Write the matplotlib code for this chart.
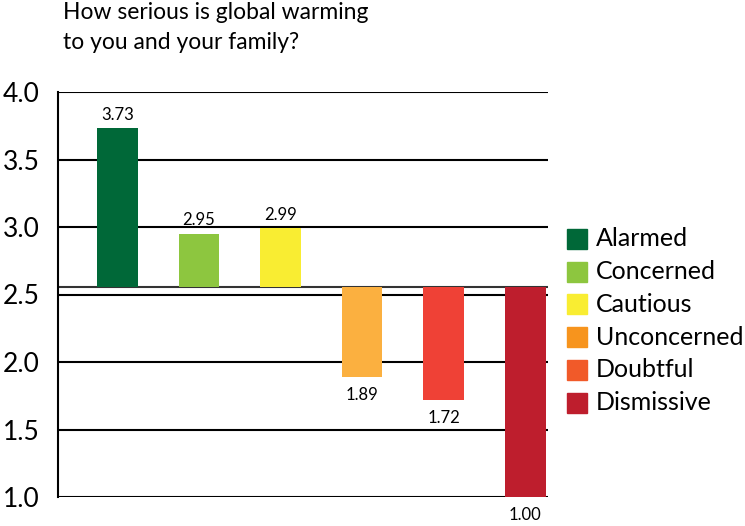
import matplotlib
matplotlib.use("Agg")
import matplotlib.pyplot as plt
from matplotlib.patches import Rectangle

plt.rcParams['font.family'] = ['Lato', 'DejaVu Sans']

# Data
segments = ["Alarmed", "Concerned", "Cautious", "Unconcerned", "Doubtful", "Dismissive"]
scores = [3.73, 2.95, 2.99, 1.89, 1.72, 1.00]
bar_colors = ["#006838", "#8DC63F", "#F9ED32", "#FBB040", "#EF4136", "#BE1E2D"]
legend_colors = ["#006838", "#8DC63F", "#F9ED32", "#F7941D", "#F15A29", "#BE1E2D"]
y_ticks = [1.0, 1.5, 2.0, 2.5, 3.0, 3.5, 4.0]
y_tick_labels = ["1.0", "1.5", "2.0", "2.5", "3.0", "3.5", "4.0"]
title = "How serious is global warming\nto you and your family?"
baseline = 2.555

fig = plt.figure(figsize=(7.45, 5.26), dpi=100)
ax = fig.add_axes([58 / 745, 1 - 497 / 526, 490 / 745, 405 / 526])

x = list(range(len(scores)))
heights = [s - baseline for s in scores]
ax.bar(x, heights, bottom=baseline, width=0.5, color=bar_colors, zorder=3)

# horizontal rules
for t in y_ticks:
    ax.axhline(t, color="black", lw=1.5, zorder=2)
ax.axhline(baseline, color="#333333", lw=1.5, zorder=2)

ax.set_xlim(-0.73, 5.28)
ax.set_ylim(1.0, 4.0)
ax.set_yticks(y_ticks)
ax.set_yticklabels(y_tick_labels, fontsize=19)
ax.tick_params(axis="y", length=0, pad=13)
ax.set_xticks([])
for side in ["top", "right", "bottom"]:
    ax.spines[side].set_visible(False)
ax.spines["left"].set_linewidth(1.5)
ax.spines["left"].set_color("black")

# value labels
for xi, s in zip(x, scores):
    if s >= baseline:
        ax.annotate(f"{s:.2f}", (xi, s), xytext=(0, 4), textcoords="offset points",
                    ha="center", va="bottom", fontsize=12, annotation_clip=False)
    else:
        ax.annotate(f"{s:.2f}", (xi, s), xytext=(0, -7), textcoords="offset points",
                    ha="center", va="top", fontsize=12, annotation_clip=False)

fig.text(63 / 745, 1 - 2 / 526, title, ha="left", va="top", fontsize=16.5,
         linespacing=1.55)

# legend
for i, (name, c) in enumerate(zip(segments, legend_colors)):
    yc = 239 + i * 32.7
    fig.patches.append(Rectangle((567 / 745, 1 - (yc + 10) / 526), 20 / 745, 20 / 526,
                                 transform=fig.transFigure, color=c))
    fig.text(596 / 745, 1 - yc / 526, name, ha="left", va="center", fontsize=18)

fig.savefig("out.png", dpi=100)
